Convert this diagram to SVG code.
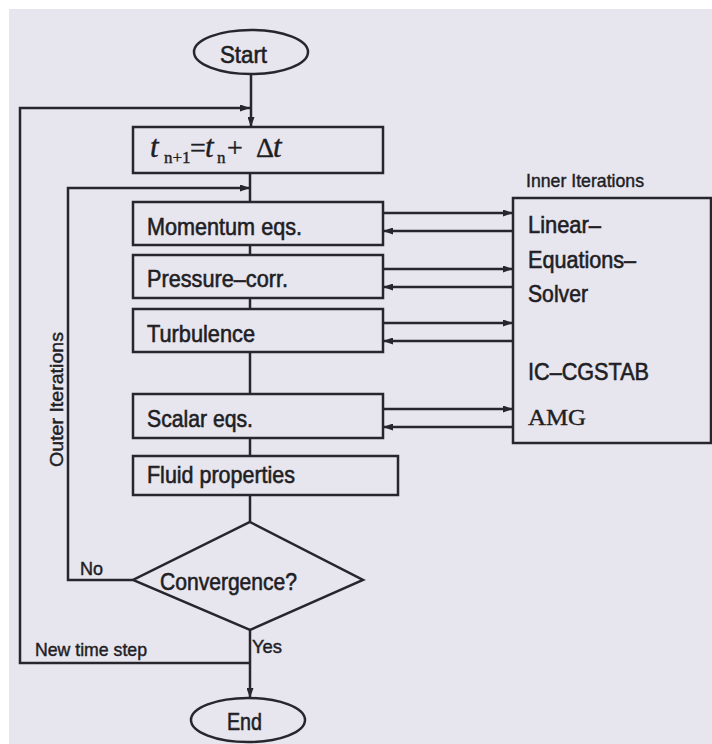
<svg xmlns="http://www.w3.org/2000/svg" width="712" height="744" viewBox="0 0 712 744">
<defs>
<marker id="arr" markerUnits="userSpaceOnUse" markerWidth="10" markerHeight="7" refX="10" refY="3.5" orient="auto">
<path d="M0,0 L10,3.5 L0,7 z" fill="#26262c"/>
</marker>
<style>
.shape{fill:none;stroke:#26262c;stroke-width:2.5}
.line{fill:none;stroke:#26262c;stroke-width:2.5}
.lbl{font-family:"Liberation Sans",Arial,sans-serif;font-size:24px;fill:#1e1e24;stroke:#1e1e24;stroke-width:0.6}
.sm{font-family:"Liberation Sans",Arial,sans-serif;font-size:19px;fill:#1e1e24;stroke:#1e1e24;stroke-width:0.45}
.ser{font-family:"Liberation Serif","Times New Roman",serif;fill:#1e1e24;stroke:#1e1e24;stroke-width:0.4}
</style>
</defs>
<rect x="0" y="0" width="712" height="744" fill="#ffffff"/>
<rect x="9" y="9" width="703" height="735" fill="#e7e5ee"/>

<g id="connectors">
<line class="line" x1="251" y1="74" x2="251" y2="127" marker-end="url(#arr)"/>
<path class="line" d="M250,663 H20 V108 H250" marker-end="url(#arr)"/>
<line class="line" x1="250" y1="173" x2="250" y2="202"/>
<path class="line" d="M133,580 H68 V188 H250" marker-end="url(#arr)"/>
<line class="line" x1="250" y1="245" x2="250" y2="255"/>
<line class="line" x1="250" y1="298" x2="250" y2="309"/>
<line class="line" x1="250" y1="352" x2="250" y2="394"/>
<line class="line" x1="250" y1="438" x2="250" y2="456"/>
<line class="line" x1="250" y1="495" x2="250" y2="522"/>
<line class="line" x1="250" y1="630" x2="250" y2="698" marker-end="url(#arr)"/>
<line class="line" x1="383" y1="213" x2="513" y2="213" marker-end="url(#arr)"/>
<line class="line" x1="513" y1="231" x2="383" y2="231" marker-end="url(#arr)"/>
<line class="line" x1="383" y1="269" x2="513" y2="269" marker-end="url(#arr)"/>
<line class="line" x1="513" y1="287" x2="383" y2="287" marker-end="url(#arr)"/>
<line class="line" x1="383" y1="323" x2="513" y2="323" marker-end="url(#arr)"/>
<line class="line" x1="513" y1="341" x2="383" y2="341" marker-end="url(#arr)"/>
<line class="line" x1="383" y1="409" x2="513" y2="409" marker-end="url(#arr)"/>
<line class="line" x1="513" y1="427" x2="383" y2="427" marker-end="url(#arr)"/>
<text class="sm" x="80" y="575" textLength="23" lengthAdjust="spacingAndGlyphs">No</text>
<text class="sm" x="35" y="656" textLength="112" lengthAdjust="spacingAndGlyphs">New time step</text>
<text class="sm" x="252" y="653" textLength="30" lengthAdjust="spacingAndGlyphs">Yes</text>
<text class="sm" transform="translate(63,467) rotate(-90)" x="0" y="0" font-size="19" textLength="135" lengthAdjust="spacingAndGlyphs">Outer Iterations</text>
</g>

<g id="start">
<ellipse class="shape" cx="251" cy="52" rx="57" ry="22"/>
<text class="lbl" x="220" y="63" textLength="47" lengthAdjust="spacingAndGlyphs">Start</text>
</g>

<g id="timestep">
<rect class="shape" x="133" y="127" width="250" height="46"/>
<text class="ser" font-size="28"><tspan x="150" y="157" font-style="italic" font-size="31">t</tspan><tspan x="164" y="163" font-size="17">n+1</tspan><tspan x="190" y="157">=</tspan><tspan x="205" y="157" font-style="italic" font-size="31">t</tspan><tspan x="217" y="163" font-size="17">n</tspan><tspan x="227" y="157">+</tspan><tspan x="256" y="157">Δ</tspan><tspan x="273" y="157" font-style="italic" font-size="31">t</tspan></text>
</g>

<g id="momentum">
<rect class="shape" x="133" y="202" width="250" height="43"/>
<text class="lbl" x="147" y="235" textLength="155" lengthAdjust="spacingAndGlyphs">Momentum eqs.</text>
</g>

<g id="pressure">
<rect class="shape" x="133" y="255" width="250" height="43"/>
<text class="lbl" x="147" y="287" textLength="141" lengthAdjust="spacingAndGlyphs">Pressure–corr.</text>
</g>

<g id="turbulence">
<rect class="shape" x="133" y="309" width="250" height="43"/>
<text class="lbl" x="147" y="342" textLength="108" lengthAdjust="spacingAndGlyphs">Turbulence</text>
</g>

<g id="scalar">
<rect class="shape" x="133" y="394" width="250" height="44"/>
<text class="lbl" x="147" y="427" textLength="106" lengthAdjust="spacingAndGlyphs">Scalar eqs.</text>
</g>

<g id="fluid">
<rect class="shape" x="133" y="456" width="265" height="39"/>
<text class="lbl" x="147" y="483" textLength="148" lengthAdjust="spacingAndGlyphs">Fluid properties</text>
</g>

<g id="convergence">
<polygon class="shape" points="250,522 363,580 250,630 133,580"/>
<text class="lbl" x="160" y="590" textLength="137" lengthAdjust="spacingAndGlyphs">Convergence?</text>
</g>

<g id="end">
<ellipse class="shape" cx="248" cy="720" rx="57" ry="22"/>
<text class="lbl" x="227" y="730" textLength="35" lengthAdjust="spacingAndGlyphs">End</text>
</g>

<g id="solver">
<text class="sm" x="526" y="187" font-size="17" textLength="118" lengthAdjust="spacingAndGlyphs">Inner Iterations</text>
<rect class="shape" x="513" y="198" width="198" height="245"/>
<text class="lbl" x="528" y="233" textLength="73" lengthAdjust="spacingAndGlyphs">Linear–</text>
<text class="lbl" x="528" y="268" textLength="108" lengthAdjust="spacingAndGlyphs">Equations–</text>
<text class="lbl" x="528" y="302" textLength="60" lengthAdjust="spacingAndGlyphs">Solver</text>
<text class="lbl" x="528" y="380" textLength="121" lengthAdjust="spacingAndGlyphs">IC–CGSTAB</text>
<text class="ser" x="528" y="425" font-size="24" textLength="58" lengthAdjust="spacingAndGlyphs">AMG</text>
</g>
</svg>
